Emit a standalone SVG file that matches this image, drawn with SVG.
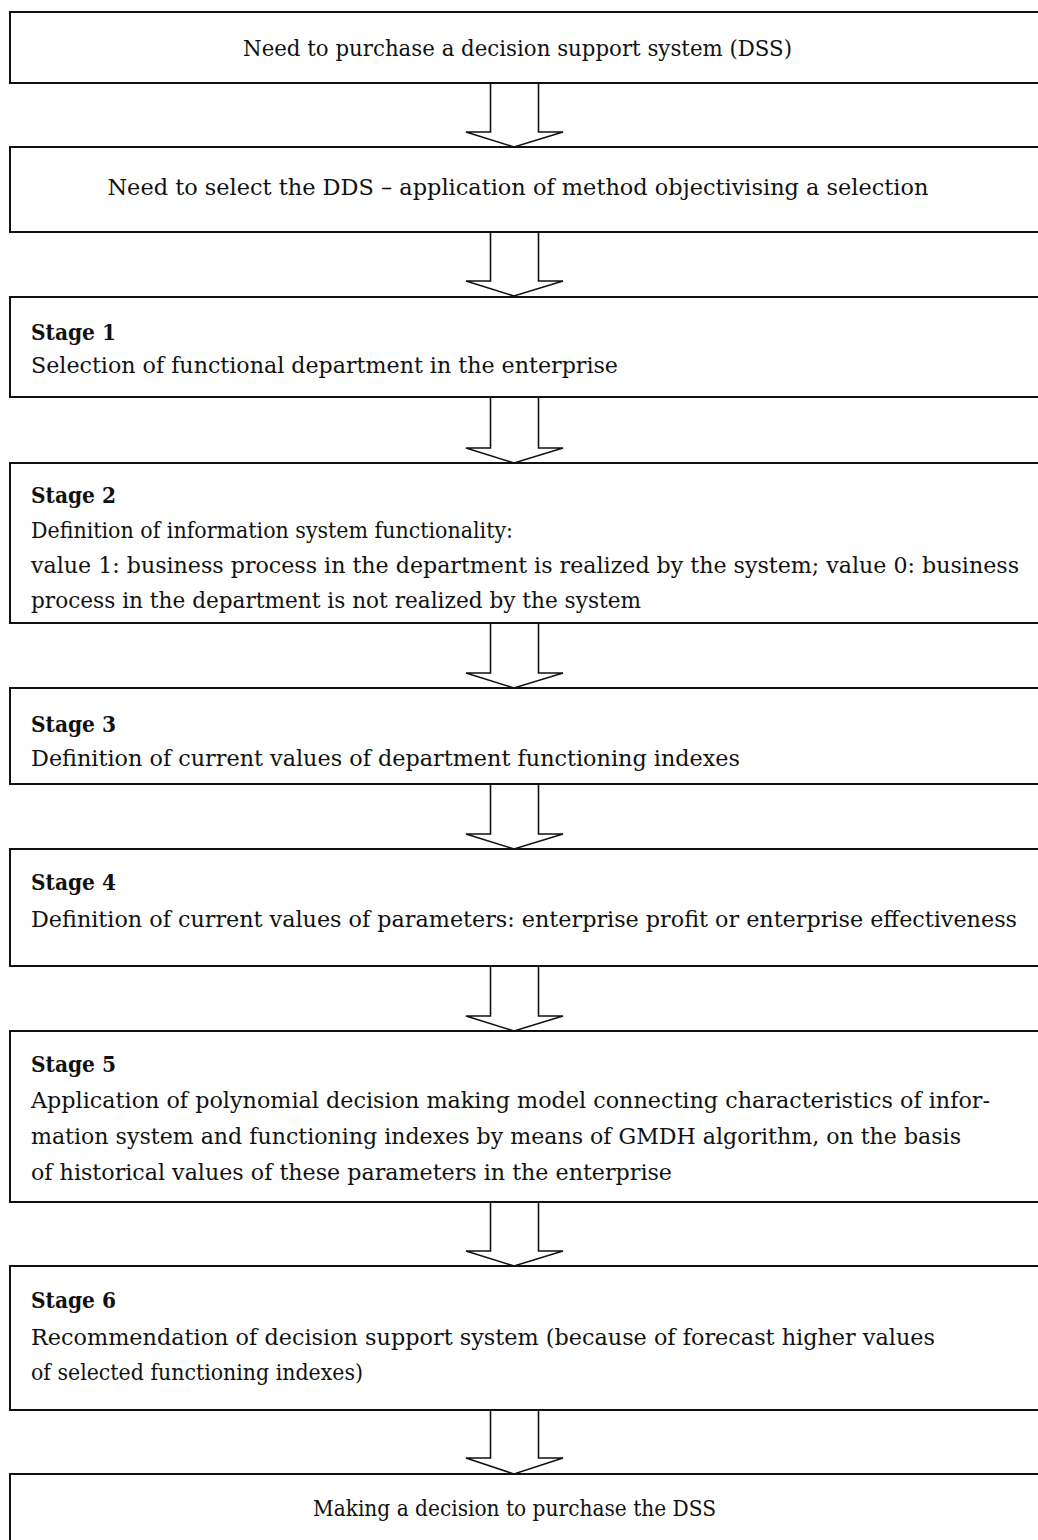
<svg xmlns="http://www.w3.org/2000/svg" width="1038" height="1540" viewBox="0 0 1038 1540">
<style>
.box{fill:#fff;stroke:#111;stroke-width:2}
.arr{fill:#fff;stroke:#111;stroke-width:1.6;stroke-linejoin:miter}
text{font-family:"DejaVu Serif","Liberation Serif",serif;font-size:23px;fill:#111}
.c{text-anchor:middle}
.b{font-weight:bold;font-size:22px}
.w{font-size:21.5px}
</style>
<rect width="1038" height="1540" fill="#fff"/>
<g id="connectors">
<path class="arr" d="M490.5,83 V132 H466 L514,147 L563,132 H538.5 V83"/>
<path class="arr" d="M490.5,232 V281 H466 L514,296 L563,281 H538.5 V232"/>
<path class="arr" d="M490.5,397 V448 H466 L514,463 L563,448 H538.5 V397"/>
<path class="arr" d="M490.5,623 V673 H466 L514,688 L563,673 H538.5 V623"/>
<path class="arr" d="M490.5,784 V834 H466 L514,849 L563,834 H538.5 V784"/>
<path class="arr" d="M490.5,966 V1016 H466 L514,1031 L563,1016 H538.5 V966"/>
<path class="arr" d="M490.5,1202 V1251 H466 L514,1266 L563,1251 H538.5 V1202"/>
<path class="arr" d="M490.5,1410 V1458 H466 L514,1474 L563,1458 H538.5 V1410"/>
</g>
<g id="n0">
<rect class="box" x="10" y="12" width="1040" height="71"/>
<text class="c" x="517.5" y="56" textLength="549" lengthAdjust="spacingAndGlyphs">Need to purchase a decision support system (DSS)</text>
</g>
<g id="n1">
<rect class="box" x="10" y="147" width="1040" height="85"/>
<text class="c" x="518" y="195" textLength="821" lengthAdjust="spacingAndGlyphs">Need to select the DDS – application of method objectivising a selection</text>
</g>
<g id="n2">
<rect class="box" x="10" y="297" width="1040" height="100"/>
<text class="b" x="31" y="340" textLength="85" lengthAdjust="spacingAndGlyphs">Stage 1</text>
<text x="31" y="373" textLength="587" lengthAdjust="spacingAndGlyphs">Selection of functional department in the enterprise</text>
</g>
<g id="n3">
<rect class="box" x="10" y="463" width="1040" height="160"/>
<text class="b" x="31" y="503" textLength="85" lengthAdjust="spacingAndGlyphs">Stage 2</text>
<text x="31" y="538" textLength="482" lengthAdjust="spacingAndGlyphs">Definition of information system functionality:</text>
<text class="w" x="31" y="573" textLength="988" lengthAdjust="spacingAndGlyphs">value 1: business process in the department is realized by the system; value 0: business</text>
<text x="31" y="608" textLength="610" lengthAdjust="spacingAndGlyphs">process in the department is not realized by the system</text>
</g>
<g id="n4">
<rect class="box" x="10" y="688" width="1040" height="96"/>
<text class="b" x="31" y="732" textLength="85" lengthAdjust="spacingAndGlyphs">Stage 3</text>
<text x="31" y="766" textLength="709" lengthAdjust="spacingAndGlyphs">Definition of current values of department functioning indexes</text>
</g>
<g id="n5">
<rect class="box" x="10" y="849" width="1040" height="117"/>
<text class="b" x="31" y="890" textLength="85" lengthAdjust="spacingAndGlyphs">Stage 4</text>
<text class="w" x="31" y="927" textLength="986" lengthAdjust="spacingAndGlyphs">Definition of current values of parameters: enterprise profit or enterprise effectiveness</text>
</g>
<g id="n6">
<rect class="box" x="10" y="1031" width="1040" height="171"/>
<text class="b" x="31" y="1072" textLength="85" lengthAdjust="spacingAndGlyphs">Stage 5</text>
<text x="31" y="1108" textLength="959" lengthAdjust="spacingAndGlyphs">Application of polynomial decision making model connecting characteristics of infor-</text>
<text x="31" y="1144" textLength="930" lengthAdjust="spacingAndGlyphs">mation system and functioning indexes by means of GMDH algorithm, on the basis</text>
<text x="31" y="1180" textLength="641" lengthAdjust="spacingAndGlyphs">of historical values of these parameters in the enterprise</text>
</g>
<g id="n7">
<rect class="box" x="10" y="1266" width="1040" height="144"/>
<text class="b" x="31" y="1308" textLength="85" lengthAdjust="spacingAndGlyphs">Stage 6</text>
<text x="31" y="1345" textLength="904" lengthAdjust="spacingAndGlyphs">Recommendation of decision support system (because of forecast higher values</text>
<text x="31" y="1380" textLength="332" lengthAdjust="spacingAndGlyphs">of selected functioning indexes)</text>
</g>
<g id="n8">
<rect class="box" x="10" y="1474" width="1040" height="80"/>
<text class="c" x="514.5" y="1516" textLength="403" lengthAdjust="spacingAndGlyphs">Making a decision to purchase the DSS</text>
</g>
</svg>
